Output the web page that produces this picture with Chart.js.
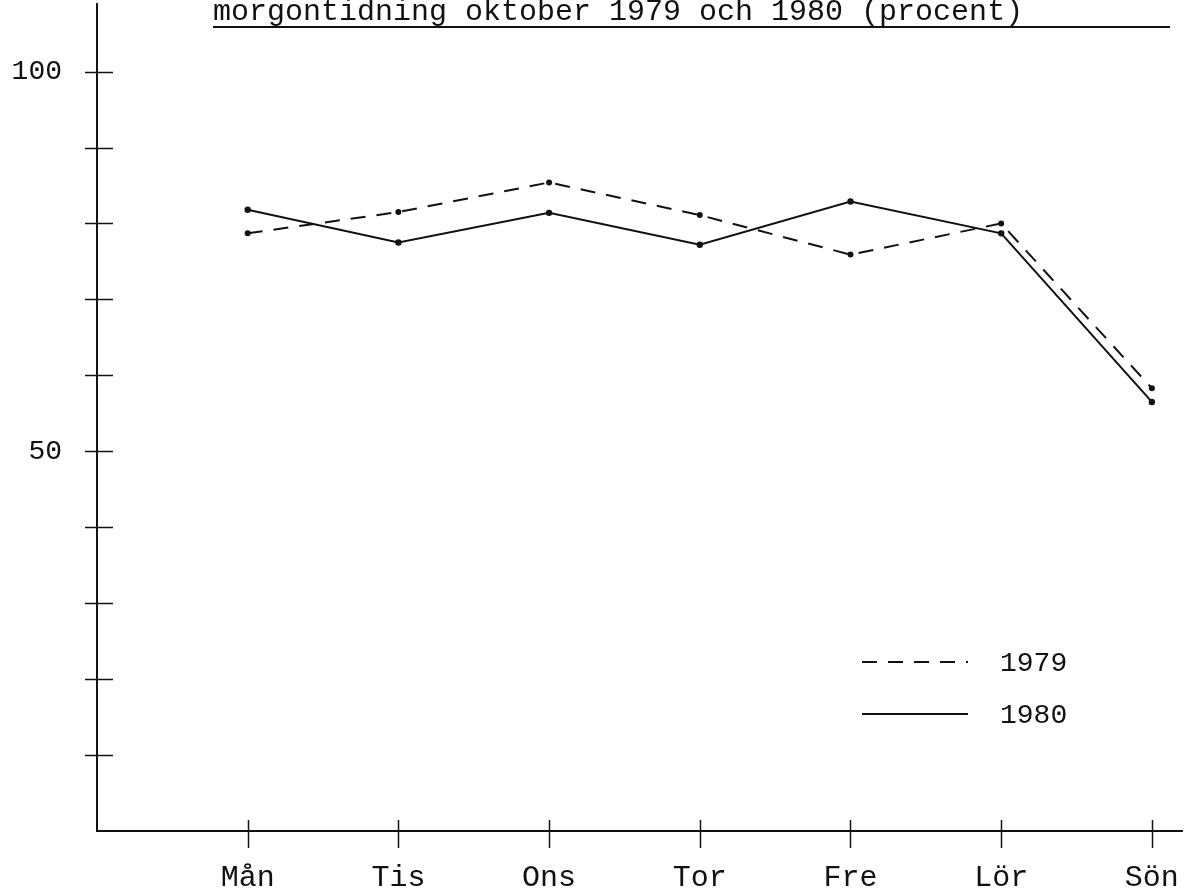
<!DOCTYPE html>
<html>
<head>
<meta charset="utf-8">
<script src="https://cdn.jsdelivr.net/npm/chart.js@4/dist/chart.umd.min.js"></script>
<style>
  html, body { margin: 0; padding: 0; background: #fff; }
  #wrap { width: 1203px; height: 892px; position: relative; }
</style>
</head>
<body>
<div id="wrap"><canvas id="chart"></canvas></div>
<script>
/* Morgontidning — läsning per veckodag, oktober 1979 och 1980 */

const TITLE   = 'morgontidning oktober 1979 och 1980 (procent)';
const DAYS    = ['Mån', 'Tis', 'Ons', 'Tor', 'Fre', 'Lör', 'Sön'];
const YEARS   = ['1979', '1980'];
const VAL1979 = [78.7, 81.5, 85.4, 81.1, 75.9, 80.0, 58.3];
const VAL1980 = [81.8, 77.5, 81.4, 77.2, 82.9, 78.7, 56.5];
const Y_TICKS_SHOWN = [100, 50];

const FONT = '"Liberation Mono", "DejaVu Sans Mono", monospace';
const INK  = '#111';

// day i sits at x = i + 1 on a linear scale, so the y axis lands at 0
const toPoints = vals => vals.map((v, i) => ({ x: i + 1, y: v }));

// crossing tick marks on both axes (the scan has them straddling the line)
const crossTicks = {
  id: 'crossTicks',
  afterDraw(chart) {
    const { ctx, scales: { x, y } } = chart;
    ctx.save();
    ctx.strokeStyle = INK;
    ctx.lineWidth   = 1.5;
    for (let v = 10; v <= 100; v += 10) {
      const py = Math.round(y.getPixelForValue(v)) + 0.5;
      ctx.beginPath();
      ctx.moveTo(x.left - 12, py);
      ctx.lineTo(x.left + 16, py);
      ctx.stroke();
    }
    DAYS.forEach((d, i) => {
      const px = Math.round(x.getPixelForValue(i + 1)) + 0.5;
      ctx.beginPath();
      ctx.moveTo(px, y.bottom - 11);
      ctx.lineTo(px, y.bottom + 17);
      ctx.stroke();
    });
    ctx.restore();
  }
};

// underlined title, its top cut by the page edge as in the scan
const cutTitle = {
  id: 'cutTitle',
  afterDraw(chart) {
    const { ctx } = chart;
    ctx.save();
    ctx.fillStyle    = INK;
    ctx.font         = '30px ' + FONT;
    ctx.textBaseline = 'alphabetic';
    ctx.fillText(TITLE, 213, 20);
    ctx.fillRect(213, 26, 957, 2);
    ctx.restore();
  }
};

// legend sample lines with year labels, inside the plot
const lineKey = {
  id: 'lineKey',
  afterDraw(chart) {
    const { ctx } = chart;
    const rows = [662, 714];
    ctx.save();
    chart.data.datasets.forEach((ds, i) => {
      ctx.strokeStyle = INK;
      ctx.lineWidth   = 2;
      ctx.setLineDash(ds.borderDash || []);
      ctx.beginPath();
      ctx.moveTo(862, rows[i]);
      ctx.lineTo(968, rows[i]);
      ctx.stroke();
      ctx.setLineDash([]);
      ctx.fillStyle    = INK;
      ctx.font         = '28px ' + FONT;
      ctx.textBaseline = 'middle';
      ctx.fillText(ds.label, 1000, rows[i] + 2);
    });
    ctx.restore();
  }
};

new Chart(document.getElementById('chart'), {
  type: 'line',
  data: {
    datasets: [
      {
        label:           YEARS[0],
        data:            toPoints(VAL1979),
        borderColor:     INK,
        borderWidth:     2,
        borderDash:      [15, 11],
        pointRadius:     3,
        pointBackgroundColor: INK,
        pointBorderWidth: 0,
        tension:         0
      },
      {
        label:           YEARS[1],
        data:            toPoints(VAL1980),
        borderColor:     INK,
        borderWidth:     2,
        pointRadius:     3.2,
        pointBackgroundColor: INK,
        pointBorderWidth: 0,
        tension:         0
      }
    ]
  },
  options: {
    responsive:          true,
    maintainAspectRatio: false,
    animation:           false,
    layout: { padding: { top: 0, right: 21, bottom: 0, left: 0 } },
    plugins: {
      legend:  { display: false },
      tooltip: { enabled: false }
    },
    scales: {
      x: {
        type: 'linear',
        min:  0,
        max:  7.2,
        grid:   { display: false, drawTicks: false },
        border: { display: true, color: INK, width: 2 },
        afterFit: s => { s.height = 61; s.paddingLeft = 0; s.paddingRight = 0; },
        afterBuildTicks: s => { s.ticks = DAYS.map((d, i) => ({ value: i + 1 })); },
        ticks: {
          color:    INK,
          font:     { family: FONT, size: 30 },
          padding:  29,
          maxRotation: 0,
          autoSkip: false,
          callback: v => DAYS[v - 1] || ''
        }
      },
      y: {
        min: 0,
        max: 108.9,
        grid:   { display: false, drawTicks: false },
        border: { display: true, color: INK, width: 2 },
        afterFit: s => { s.width = 97; s.paddingTop = 0; s.paddingBottom = 0; },
        ticks: {
          stepSize: 10,
          color:    INK,
          font:     { family: FONT, size: 28 },
          padding:  35,
          callback: v => Y_TICKS_SHOWN.includes(v) ? String(v) : ''
        }
      }
    }
  },
  plugins: [crossTicks, cutTitle, lineKey]
});
</script>
</body>
</html>
